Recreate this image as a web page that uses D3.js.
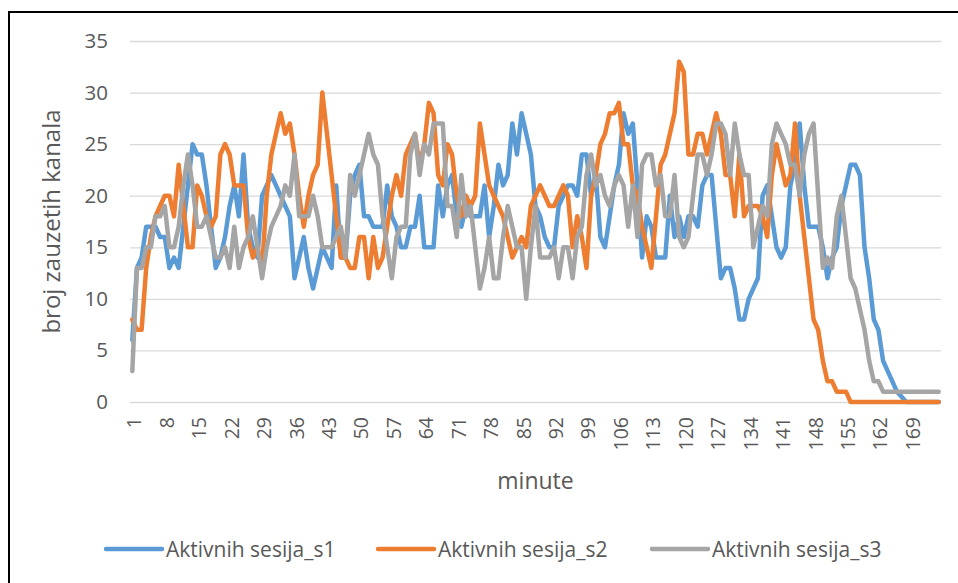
<!DOCTYPE html>
<html>
<head>
<meta charset="utf-8">
<script src="https://cdn.jsdelivr.net/npm/d3@7"></script>
<style>
  html, body { margin: 0; padding: 0; background: #ffffff; }
  svg { display: block; }
  text { font-family: "Open Sans", "Noto Sans", sans-serif; fill: #595959; }
</style>
</head>
<body>
<svg id="chart" width="958" height="583"></svg>
<script>
// ---- data ----
const seriesNames = ["Aktivnih sesija_s1", "Aktivnih sesija_s2", "Aktivnih sesija_s3"];
const seriesColors = ["#5b9bd5", "#ed7d31", "#a5a5a5"];

const s1 = [
  6, 13, 14, 17, 17, 17, 16, 16, 13, 14,
  13, 17, 21, 25, 24, 24, 21, 17, 13, 14,
  16, 19, 21, 18, 24, 17, 15, 14, 20, 21,
  22, 21, 20, 19, 18, 12, 14, 16, 13, 11,
  13, 15, 14, 13, 21, 14, 14, 20, 22, 23,
  18, 18, 17, 17, 17, 21, 18, 17, 15, 15,
  17, 17, 20, 15, 15, 15, 21, 18, 21, 22,
  18, 17, 19, 18, 18, 18, 21, 16, 19, 23,
  21, 22, 27, 24, 28, 26, 24, 19, 18, 16,
  15, 15, 19, 20, 21, 21, 20, 24, 24, 20,
  22, 16, 15, 18, 21, 23, 28, 26, 27, 21,
  14, 18, 17, 14, 14, 14, 20, 16, 18, 16,
  18, 18, 17, 21, 22, 22, 17, 12, 13, 13,
  11, 8, 8, 10, 11, 12, 20, 21, 18, 15,
  14, 15, 21, 23, 27, 21, 17, 17, 17, 15,
  12, 14, 15, 19, 21, 23, 23, 22, 15, 12,
  8, 7, 4, 3, 2, 1, 0.5, 0, 0, 0,
  0, 0, 0, 0, 0
];
const s2 = [
  8, 7, 7, 13, 16, 18, 19, 20, 20, 18,
  23, 19, 15, 15, 21, 20, 18, 17, 18, 24,
  25, 24, 21, 21, 21, 16, 14, 15, 13, 20,
  24, 26, 28, 26, 27, 24, 20, 17, 20, 22,
  23, 30, 26, 22, 18, 14, 14, 13, 13, 16,
  16, 12, 16, 13, 14, 17, 20, 22, 20, 24,
  25, 26, 23, 25, 29, 28, 22, 21, 25, 24,
  20, 18, 20, 19, 20, 27, 24, 21, 20, 19,
  18, 16, 14, 15, 16, 15, 19, 20, 21, 20,
  19, 19, 20, 21, 20, 15, 18, 16, 13, 20,
  22, 25, 26, 28, 28, 29, 25, 25, 21, 20,
  17, 15, 13, 18, 23, 24, 26, 28, 33, 32,
  24, 24, 26, 26, 24, 26, 28, 26, 22, 22,
  18, 24, 18, 19, 19, 19, 18, 16, 22, 25,
  23, 21, 22, 27, 20, 16, 12, 8, 7, 4,
  2, 2, 1, 1, 1, 0, 0, 0, 0, 0,
  0, 0, 0, 0, 0, 0, 0, 0, 0, 0,
  0, 0, 0, 0, 0
];
const s3 = [
  3, 13, 13, 15, 15, 18, 18, 19, 15, 15,
  17, 21, 24, 21, 17, 17, 18, 16, 14, 14,
  15, 13, 17, 13, 15, 16, 18, 15, 12, 15,
  17, 18, 19, 21, 20, 24, 18, 18, 18, 20,
  18, 15, 15, 15, 16, 17, 14, 22, 20, 22,
  24, 26, 24, 23, 18, 15, 12, 16, 17, 17,
  24, 26, 22, 25, 24, 27, 27, 27, 19, 19,
  16, 22, 18, 19, 15, 11, 13, 16, 12, 12,
  16, 19, 17, 15, 15, 10, 15, 19, 14, 14,
  14, 15, 12, 15, 15, 12, 16, 17, 22, 24,
  21, 22, 20, 19, 21, 22, 21, 17, 21, 16,
  23, 24, 24, 21, 22, 18, 18, 22, 16, 15,
  16, 20, 24, 24, 22, 24, 27, 27, 26, 22,
  27, 24, 22, 22, 15, 17, 19, 18, 25, 27,
  26, 25, 23, 23, 20, 24, 26, 27, 20, 13,
  14, 13, 18, 20, 16, 12, 11, 9, 7, 4,
  2, 2, 1, 1, 1, 1, 1, 1, 1, 1,
  1, 1, 1, 1, 1
];
const minutes = d3.range(1, s1.length + 1);
const xTickLabels = minutes.filter(m => (m - 1) % 7 === 0);
const yTicks = [0, 5, 10, 15, 20, 25, 30, 35];
const xTitle = "minute";
const yTitle = "broj zauzetih kanala";

// ---- layout ----
const svg = d3.select("#chart");
const plot = { left: 130, right: 941, top: 41, bottom: 402 };

// outer frame
svg.append("rect")
  .attr("x", 9).attr("y", 12).attr("width", 960).attr("height", 600)
  .attr("fill", "none").attr("stroke", "#000").attr("stroke-width", 2);

const x = d3.scalePoint().domain(minutes).range([plot.left, plot.right]).padding(0.5);
const y = d3.scaleLinear().domain([0, 35]).range([plot.bottom, plot.top]);

// gridlines + y labels via axis
const yAxis = d3.axisLeft(y).tickValues(yTicks).tickSize(-(plot.right - plot.left)).tickPadding(22);
const gy = svg.append("g").attr("transform", `translate(${plot.left},0)`).call(yAxis);
gy.select(".domain").remove();
gy.selectAll(".tick line").attr("stroke", "#d9d9d9").attr("stroke-width", 1.3);
gy.selectAll(".tick text")
  .attr("font-size", 20.5).attr("fill", "#595959")
  .style("font-family", '"Open Sans", sans-serif');

// x axis labels (rotated)
const xAxis = d3.axisBottom(x).tickValues(xTickLabels).tickSize(0);
const gx = svg.append("g").attr("transform", `translate(0,${plot.bottom})`).call(xAxis);
gx.select(".domain").remove();
gx.selectAll(".tick text")
  .attr("font-size", 19.5).attr("fill", "#595959")
  .style("font-family", '"Open Sans", sans-serif')
  .attr("text-anchor", "end")
  .attr("dy", null)
  .attr("y", 0)
  .attr("dominant-baseline", "central")
  .attr("transform", "translate(1,15) rotate(-90)");

// lines
const line = d3.line().x((d, i) => x(minutes[i])).y(d => y(d));
[s1, s2, s3].forEach((s, k) => {
  svg.append("path")
    .datum(s)
    .attr("d", line)
    .attr("fill", "none")
    .attr("stroke", seriesColors[k])
    .attr("stroke-width", 4.5)
    .attr("stroke-linejoin", "round")
    .attr("stroke-linecap", "round");
});

// axis titles
svg.append("text")
  .attr("x", (plot.left + plot.right) / 2).attr("y", 480)
  .attr("text-anchor", "middle").attr("dominant-baseline", "central")
  .attr("font-size", 23).text(xTitle);
svg.append("text")
  .attr("transform", `translate(50,${(plot.top + plot.bottom) / 2}) rotate(-90)`)
  .attr("text-anchor", "middle").attr("dominant-baseline", "central")
  .attr("font-size", 24).text(yTitle);

// legend
const legendX = [106, 378, 652];
const lg = svg.append("g");
seriesNames.forEach((n, k) => {
  const g = lg.append("g").attr("transform", `translate(${legendX[k]},549)`);
  g.append("line").attr("x1", 0).attr("x2", 56).attr("y1", 0).attr("y2", 0)
    .attr("stroke", seriesColors[k]).attr("stroke-width", 4.5).attr("stroke-linecap", "round");
  g.append("text").attr("x", 60).attr("y", 0).attr("dominant-baseline", "central")
    .attr("font-size", 21).text(n);
});
</script>
</body>
</html>
